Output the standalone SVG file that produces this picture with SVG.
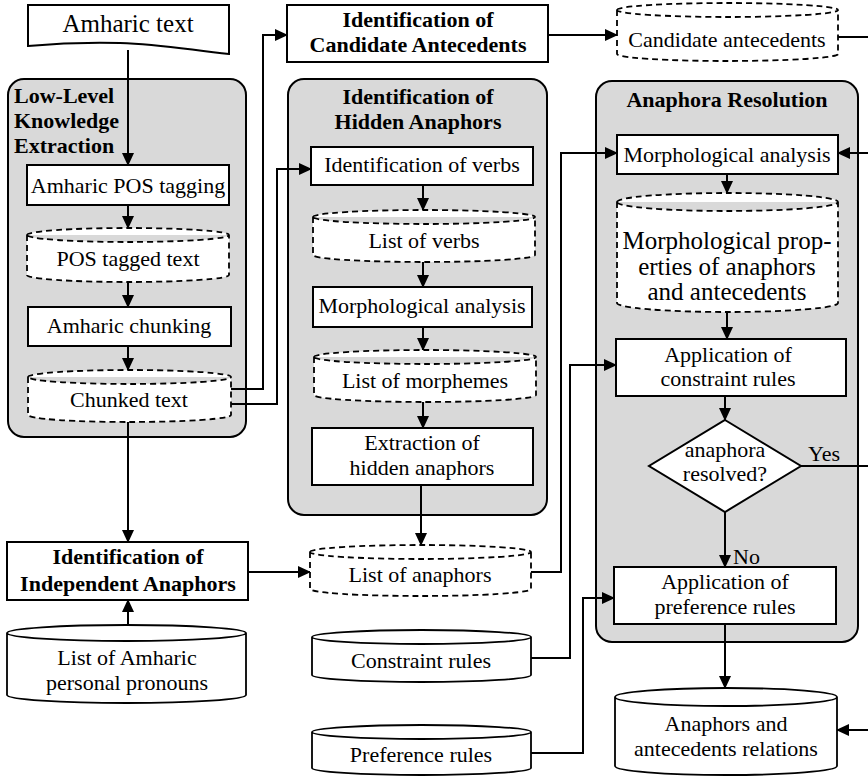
<svg xmlns="http://www.w3.org/2000/svg" width="868" height="776" viewBox="0 0 868 776">
  <defs>
    <style>
      .t { font-family: "Liberation Serif", "Times New Roman", serif; font-size: 22px; font-weight: normal; text-anchor: middle; fill: #000; }
      .b { font-weight: bold; }
      .l { text-anchor: start; }
      .big { font-size: 25px; }
      .box { fill: #fff; stroke: #000; stroke-width: 2; }
      .panel { fill: #d9d9d9; stroke: #000; stroke-width: 2; }
      .cyl { fill: #fff; stroke: #000; stroke-width: 1.8; }
      .dcyl { fill: #fff; stroke: #000; stroke-width: 1.8; stroke-dasharray: 6 4; }
      .conn { fill: none; stroke: #000; stroke-width: 2; marker-end: url(#ah); }
    </style>
    <marker id="ah" markerUnits="userSpaceOnUse" markerWidth="13" markerHeight="12" refX="12" refY="6" orient="auto">
      <path d="M0,0 L13,6 L0,12 z" fill="#000"/>
    </marker>
  </defs>

  <!-- panels -->
  <g id="panel-low-level">
    <rect class="panel" x="8" y="79" width="238" height="358" rx="16"/>
    <text class="t b l" x="14" y="103">Low-Level</text>
    <text class="t b l" x="14" y="128">Knowledge</text>
    <text class="t b l" x="14" y="153">Extraction</text>
  </g>
  <g id="panel-hidden">
    <rect class="panel" x="288" y="79" width="259" height="436" rx="16"/>
    <text class="t b" x="418" y="104">Identification of</text>
    <text class="t b" x="418" y="129">Hidden Anaphors</text>
  </g>
  <g id="panel-resolution">
    <rect class="panel" x="596" y="81" width="262" height="561" rx="16"/>
    <text class="t b" x="727" y="107">Anaphora Resolution</text>
  </g>

  <!-- connectors -->
  <g id="connectors">
    <path class="conn" d="M128,50 V165"/>
    <path class="conn" d="M128,205 V228"/>
    <path class="conn" d="M128,282 V307"/>
    <path class="conn" d="M128,346 V370"/>
    <path class="conn" d="M231,389 H263 V35 H287"/>
    <path class="conn" d="M231,404 H277 V169 H311"/>
    <path class="conn" d="M128,422 V542"/>
    <path class="conn" d="M128,625 V600"/>
    <path class="conn" d="M248,572 H310"/>
    <path class="conn" d="M548,35 H617"/>
    <path class="conn" d="M838,37 H872 V153 H838"/>
    <path class="conn" d="M423,185 V210"/>
    <path class="conn" d="M423,262 V287"/>
    <path class="conn" d="M423,327 V350"/>
    <path class="conn" d="M423,402 V428"/>
    <path class="conn" d="M421,485 V545"/>
    <path class="conn" d="M531,572 H561 V153 H617"/>
    <path class="conn" d="M727,174 V193"/>
    <path class="conn" d="M727,312 V339"/>
    <path class="conn" d="M725,396 V420"/>
    <path class="conn" d="M531,658 H570 V365 H616"/>
    <path class="conn" d="M725,512 V567"/>
    <path class="conn" d="M801,466 H872 V730 H837"/>
    <path class="conn" d="M531,753 H583 V598 H614"/>
    <path class="conn" d="M725,624 V688"/>
  </g>

  <!-- nodes -->
  <g id="amharic-text">
    <path class="box" d="M28,5 H229 V54 C190,50 160,44 120,43 C80,42 50,44 28,46 Z"/>
    <text class="t big" x="128" y="32">Amharic text</text>
  </g>
  <g id="pos-tagging">
    <rect class="box" x="27" y="165" width="202" height="40"/>
    <text class="t" x="128" y="193">Amharic POS tagging</text>
  </g>
  <g id="pos-tagged-text">
    <path class="dcyl" d="M27,235 A101,7 0 0 1 229,235 A101,7 0 0 1 27,235 M27,235 V275 A101,7 0 0 0 229,275 V235"/>
    <text class="t" x="128" y="266">POS tagged text</text>
  </g>
  <g id="chunking">
    <rect class="box" x="28" y="307" width="203" height="39"/>
    <text class="t" x="129" y="333">Amharic chunking</text>
  </g>
  <g id="chunked-text">
    <path class="dcyl" d="M28,377 A101.5,7 0 0 1 231,377 A101.5,7 0 0 1 28,377 M28,377 V415 A101.5,7 0 0 0 231,415 V377"/>
    <text class="t" x="129" y="407">Chunked text</text>
  </g>
  <g id="independent-anaphors">
    <rect class="box" x="7" y="542" width="241" height="58"/>
    <text class="t b" x="128" y="564">Identification of</text>
    <text class="t b" x="128" y="591">Independent Anaphors</text>
  </g>
  <g id="pronoun-list">
    <path class="cyl" d="M7,633 A119.5,8 0 0 1 246,633 A119.5,8 0 0 1 7,633 M7,633 V695 A119.5,8 0 0 0 246,695 V633"/>
    <text class="t" x="127" y="665">List of Amharic</text>
    <text class="t" x="127" y="690">personal pronouns</text>
  </g>

  <g id="candidate-identification">
    <rect class="box" x="287" y="5" width="261" height="57"/>
    <text class="t b" x="418" y="27">Identification of</text>
    <text class="t b" x="418" y="52">Candidate Antecedents</text>
  </g>
  <g id="candidate-antecedents">
    <path class="dcyl" d="M617,10 A110.5,7 0 0 1 838,10 A110.5,7 0 0 1 617,10 M617,10 V54 A110.5,7 0 0 0 838,54 V10"/>
    <text class="t" x="727" y="47">Candidate antecedents</text>
  </g>

  <g id="verb-identification">
    <rect class="box" x="311" y="147" width="222" height="38"/>
    <text class="t" x="422" y="172">Identification of verbs</text>
  </g>
  <g id="verb-list">
    <path class="dcyl" d="M313,217 A111,7 0 0 1 535,217 A111,7 0 0 1 313,217 M313,217 V255 A111,7 0 0 0 535,255 V217"/>
    <text class="t" x="424" y="248">List of verbs</text>
  </g>
  <g id="verb-morphology">
    <rect class="box" x="313" y="287" width="219" height="40"/>
    <text class="t" x="422" y="313">Morphological analysis</text>
  </g>
  <g id="morpheme-list">
    <path class="dcyl" d="M314,357 A111,7 0 0 1 536,357 A111,7 0 0 1 314,357 M314,357 V395 A111,7 0 0 0 536,395 V357"/>
    <text class="t" x="425" y="388">List of morphemes</text>
  </g>
  <g id="hidden-extraction">
    <rect class="box" x="312" y="428" width="221" height="57"/>
    <text class="t" x="422" y="450">Extraction of</text>
    <text class="t" x="422" y="475">hidden anaphors</text>
  </g>
  <g id="anaphor-list">
    <path class="dcyl" d="M310,552 A110.5,7 0 0 1 531,552 A110.5,7 0 0 1 310,552 M310,552 V589 A110.5,7 0 0 0 531,589 V552"/>
    <text class="t" x="420" y="582">List of anaphors</text>
  </g>
  <g id="constraint-rules">
    <path class="cyl" d="M312,637 A109.5,7 0 0 1 531,637 A109.5,7 0 0 1 312,637 M312,637 V675 A109.5,7 0 0 0 531,675 V637"/>
    <text class="t" x="421" y="668">Constraint rules</text>
  </g>
  <g id="preference-rules">
    <path class="cyl" d="M312,732 A109.5,7 0 0 1 531,732 A109.5,7 0 0 1 312,732 M312,732 V768 A109.5,7 0 0 0 531,768 V732"/>
    <text class="t" x="421" y="762">Preference rules</text>
  </g>

  <g id="resolution-morphology">
    <rect class="box" x="617" y="135" width="221" height="39"/>
    <text class="t" x="727" y="162">Morphological analysis</text>
  </g>
  <g id="morphological-properties">
    <path class="dcyl" d="M617,202 A110.5,9 0 0 1 838,202 A110.5,9 0 0 1 617,202 M617,202 V303 A110.5,9 0 0 0 838,303 V202"/>
    <text class="t big" x="727" y="249">Morphological prop-</text>
    <text class="t big" x="727" y="275">erties of anaphors</text>
    <text class="t big" x="727" y="300">and antecedents</text>
  </g>
  <g id="constraint-application">
    <rect class="box" x="616" y="339" width="230" height="57"/>
    <text class="t" x="728" y="362">Application of</text>
    <text class="t" x="728" y="386">constraint rules</text>
  </g>
  <g id="resolved-check">
    <path class="box" d="M725,420 L801,466 L725,512 L649,466 Z"/>
    <text class="t" x="725" y="457">anaphora</text>
    <text class="t" x="725" y="481">resolved?</text>
    <text class="t l" x="808" y="461">Yes</text>
    <text class="t l" x="733" y="564">No</text>
  </g>
  <g id="preference-application">
    <rect class="box" x="614" y="567" width="222" height="57"/>
    <text class="t" x="725" y="589">Application of</text>
    <text class="t" x="725" y="614">preference rules</text>
  </g>
  <g id="relations">
    <path class="cyl" d="M615,697 A111,9 0 0 1 837,697 A111,9 0 0 1 615,697 M615,697 V766 A111,9 0 0 0 837,766 V697"/>
    <text class="t" x="726" y="731">Anaphors and</text>
    <text class="t" x="726" y="756">antecedents relations</text>
  </g>
</svg>
